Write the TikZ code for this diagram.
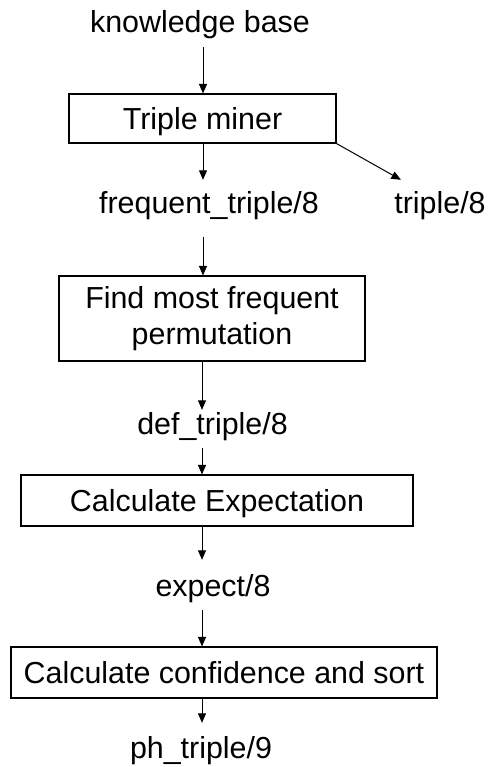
\documentclass[tikz,border=0pt]{standalone}
\usepackage{fontspec}
\setmainfont{Liberation Sans}
\usetikzlibrary{arrows.meta,calc}
\begin{document}
\begin{tikzpicture}[x=1pt,y=-1pt,
  every node/.style={font=\fontsize{30.4}{35.7}\selectfont},
  lbl/.style={inner sep=0pt,anchor=base,text height=22pt,text depth=7pt},
  procbox/.style={draw,line width=1.1pt,inner sep=0pt,align=center,text height=21.8pt,text depth=0pt},
  arr/.style={line width=1pt,-{Triangle[length=9.5pt,width=8pt]}}]
\useasboundingbox (0,0) rectangle (489,767);
\coordinate (ax) at (203,0);
\coordinate (bx) at (202,0);
\node[lbl] (kb) at (200,33) {knowledge base};
\node[procbox,minimum width=267pt,minimum height=49pt] (b1) at (202.5,118.5) {Triple miner};
\node[lbl] (freq) at (209,213) {frequent\_triple/8};
\node[lbl] (tr) at (440,213) {triple/8};
\node[draw,line width=1.1pt,inner sep=0pt,align=center,minimum width=306pt,minimum height=85pt] (b2) at (212,318.5) {Find most frequent\\permutation};
\node[lbl] (def) at (212.5,434) {def\_triple/8};
\node[procbox,minimum width=392pt,minimum height=51pt] (b3) at (217,500.5) {Calculate Expectation};
\node[lbl] (exp) at (213,596.7) {expect/8};
\node[procbox,minimum width=426pt,minimum height=51pt] (b4) at (224,672.5) {Calculate confidence and sort};
\node[lbl] (ph) at (201,758) {ph\_triple/9};
\draw[arr,shorten <=7pt] (kb.south -| ax) -- (b1.north -| ax);
\draw[arr,shorten >=11pt] (b1.south -| ax) -- (freq.north -| ax);
\draw[arr] (b1.south east) -- ($(tr.north west)+(6.7,-11)$);
\draw[arr,shorten <=17pt] (freq.south -| ax) -- (b2.north -| ax);
\draw[arr,shorten >=2pt] (b2.south -| bx) -- (def.north -| bx);
\draw[arr,shorten <=7pt] (def.south -| bx) -- (b3.north -| bx);
\draw[arr,shorten >=14.7pt] (b3.south -| bx) -- (exp.north -| bx);
\draw[arr,shorten <=6.3pt] (exp.south -| bx) -- (b4.north -| bx);
\draw[arr,shorten >=13pt] (b4.south -| bx) -- (ph.north -| bx);
\end{tikzpicture}
\end{document}
